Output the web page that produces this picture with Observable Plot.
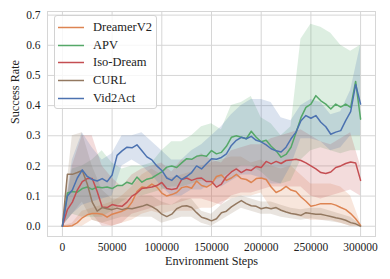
<!DOCTYPE html>
<html><head><meta charset="utf-8">
<script src="https://cdn.jsdelivr.net/npm/d3@7"></script>
<script src="https://cdn.jsdelivr.net/npm/@observablehq/plot@0.6"></script>
<style>
body{margin:0;background:#fff;font-family:'Liberation Serif', serif;}
#wrap{position:relative;width:390px;height:279px;font-family:'Liberation Serif', serif;}
#legend{position:absolute;left:54px;top:15px;width:101px;height:92px;border:1px solid #d2d2d2;border-radius:3px;background:rgba(255,255,255,0.8);}
.item{position:absolute;left:0;height:18px;width:100px;font-size:12.5px;color:#222;font-family:'Liberation Serif', serif;}
.item svg{position:absolute;left:3px;top:8px;}
.item span{position:absolute;left:38px;top:0;line-height:18px;white-space:nowrap;}
</style></head>
<body><div id="wrap"><div id="legend"></div></div>
<script>
const names = ["DreamerV2","APV","Iso-Dream","CURL","Vid2Act"];
const colors = ["#dd8452","#55a868","#c44e52","#937860","#4c72b0"];
const steps = d3.range(0, 300001, 5000);
const bandSteps = d3.range(0, 300001, 10000);
const xTicks = [0,50000,100000,150000,200000,250000,300000];
const yTicks = [0,0.1,0.2,0.3,0.4,0.5,0.6,0.7];

const dreamerV2 = [0,0,0.002,0.012,0.028,0.038,0.042,0.042,0.04,0.03,
  0.04,0.045,0.05,0.058,0.08,0.115,0.13,0.128,0.14,0.13,
  0.11,0.1,0.105,0.112,0.128,0.132,0.126,0.15,0.135,0.13,
  0.14,0.165,0.17,0.152,0.16,0.172,0.158,0.155,0.145,0.158,
  0.16,0.155,0.13,0.112,0.12,0.132,0.12,0.115,0.097,0.083,
  0.066,0.07,0.075,0.075,0.075,0.07,0.062,0.055,0.042,0.025,
  0.003];
const apv = [0,0.11,0.115,0.113,0.125,0.13,0.122,0.13,0.128,0.13,
  0.125,0.135,0.135,0.146,0.14,0.163,0.146,0.156,0.16,0.17,
  0.18,0.196,0.2,0.195,0.21,0.224,0.222,0.232,0.235,0.232,
  0.251,0.24,0.245,0.265,0.295,0.3,0.295,0.29,0.315,0.295,
  0.28,0.285,0.265,0.25,0.229,0.238,0.262,0.31,0.36,0.394,
  0.405,0.433,0.416,0.405,0.389,0.405,0.395,0.405,0.394,0.48,
  0.355];
const isoDream = [0,0.055,0.08,0.12,0.148,0.158,0.158,0.115,0.064,0.062,
  0.072,0.068,0.066,0.08,0.1,0.11,0.125,0.128,0.13,0.135,
  0.145,0.125,0.122,0.125,0.155,0.16,0.152,0.158,0.16,0.148,
  0.148,0.13,0.14,0.165,0.18,0.19,0.178,0.188,0.185,0.198,
  0.195,0.215,0.207,0.215,0.208,0.218,0.22,0.222,0.218,0.21,
  0.2,0.19,0.178,0.175,0.18,0.195,0.2,0.208,0.213,0.21,
  0.152];
const curl = [0,0.172,0.172,0.178,0.185,0.14,0.08,0.05,0.062,0.058,
  0.055,0.06,0.055,0.06,0.058,0.062,0.066,0.072,0.065,0.055,
  0.04,0.032,0.04,0.058,0.066,0.068,0.062,0.045,0.03,0.025,
  0.018,0.025,0.045,0.05,0.064,0.075,0.085,0.075,0.068,0.066,
  0.058,0.062,0.058,0.062,0.053,0.047,0.042,0.04,0.036,0.045,
  0.042,0.04,0.04,0.036,0.032,0.028,0.025,0.02,0.012,0.008,
  0];
const vid2Act = [0,0.1,0.12,0.16,0.187,0.165,0.155,0.15,0.158,0.148,
  0.17,0.235,0.25,0.262,0.26,0.27,0.25,0.23,0.22,0.2,
  0.185,0.16,0.152,0.168,0.155,0.165,0.178,0.2,0.19,0.207,
  0.224,0.222,0.228,0.24,0.268,0.285,0.295,0.29,0.298,0.285,
  0.28,0.27,0.257,0.25,0.246,0.262,0.29,0.312,0.35,0.367,
  0.358,0.367,0.345,0.33,0.305,0.312,0.317,0.35,0.38,0.47,
  0.405];

const dreamerLo = [0,0,0,0.02,0.01,0,0.01,0.02,0.04,0.05,0.04,0.05,0.05,0.05,0.06,0.06,0.08,0.09,0.1,0.1,0.11,0.06,0.05,0.04,0.03,0.02,0.02,0.02,0.01,0,0];
const dreamerHi = [0,0.01,0.05,0.06,0.07,0.08,0.1,0.13,0.17,0.19,0.17,0.16,0.17,0.18,0.2,0.21,0.22,0.23,0.23,0.21,0.22,0.2,0.19,0.2,0.17,0.14,0.14,0.14,0.13,0.1,0.01];
const apvLo = [0,0.04,0.03,0.03,0.03,0.05,0.08,0.1,0.1,0.11,0.12,0.13,0.13,0.14,0.15,0.15,0.16,0.18,0.2,0.2,0.18,0.15,0.14,0.15,0.22,0.25,0.26,0.25,0.24,0.25,0.25];
const apvHi = [0,0.19,0.2,0.22,0.25,0.21,0.19,0.2,0.2,0.21,0.25,0.28,0.28,0.3,0.33,0.34,0.32,0.4,0.41,0.43,0.36,0.34,0.3,0.33,0.62,0.67,0.66,0.64,0.6,0.58,0.6];
const isoLo = [0,0,0.03,0.04,0,0,0.01,0.04,0.05,0.06,0.07,0.07,0.08,0.09,0.09,0.08,0.07,0.1,0.11,0.11,0.12,0.13,0.13,0.13,0.13,0.1,0.09,0.1,0.11,0.12,0.1];
const isoHi = [0,0.2,0.3,0.3,0.2,0.16,0.13,0.17,0.19,0.2,0.21,0.18,0.22,0.22,0.24,0.22,0.21,0.25,0.26,0.27,0.27,0.29,0.3,0.31,0.32,0.3,0.28,0.27,0.29,0.31,0.2];
const curlLo = [0,0.04,0.08,0.02,0.01,0.02,0.03,0.03,0.03,0.03,0.01,0.02,0.03,0.03,0.01,0,0.02,0.04,0.06,0.05,0.04,0.04,0.03,0.025,0.02,0.025,0.02,0.015,0.01,0,0];
const curlHi = [0,0.3,0.31,0.2,0.12,0.09,0.09,0.09,0.1,0.1,0.08,0.07,0.09,0.09,0.05,0.04,0.07,0.09,0.1,0.09,0.08,0.08,0.07,0.06,0.055,0.06,0.06,0.05,0.04,0.03,0.005];
const vidLo = [0,0.04,0.07,0.08,0.09,0.1,0.2,0.22,0.2,0.17,0.13,0.1,0.1,0.12,0.12,0.14,0.13,0.15,0.17,0.17,0.16,0.14,0.14,0.2,0.29,0.29,0.28,0.25,0.26,0.3,0.3];
const vidHi = [0,0.22,0.31,0.26,0.22,0.24,0.3,0.3,0.31,0.28,0.25,0.22,0.22,0.25,0.27,0.3,0.33,0.37,0.4,0.42,0.42,0.41,0.36,0.35,0.4,0.42,0.41,0.37,0.38,0.45,0.6];

const means = [dreamerV2, apv, isoDream, curl, vid2Act];
const los = [dreamerLo, apvLo, isoLo, curlLo, vidLo];
const his = [dreamerHi, apvHi, isoHi, curlHi, vidHi];

const bandMarks = names.map((n, i) => Plot.areaY(
  bandSteps.map((s, j) => ({step: s, lo: los[i][j], hi: his[i][j]})),
  {x: "step", y1: "lo", y2: "hi", fill: colors[i], fillOpacity: 0.2}));
const lineMarks = names.map((n, i) => Plot.line(
  steps.map((s, j) => ({step: s, v: means[i][j]})),
  {x: "step", y: "v", stroke: colors[i], strokeWidth: 1.5}));

const grid = "#d6d6d6";
const chart = Plot.plot({
  width: 390, height: 279,
  marginLeft: 47, marginRight: 15, marginTop: 11, marginBottom: 43,
  style: {fontFamily: "'Liberation Serif', serif", fontSize: "11.5px", color: "#222", background: "#fff"},
  x: {domain: [-15000, 315000]},
  y: {domain: [-0.034, 0.712]},
  marks: [
    Plot.gridX(xTicks, {stroke: grid, strokeOpacity: 1, strokeWidth: 1}),
    Plot.gridY(yTicks, {stroke: grid, strokeOpacity: 1, strokeWidth: 1}),
    Plot.frame({stroke: grid, strokeWidth: 1}),
    ...bandMarks,
    ...lineMarks,
    Plot.axisX(xTicks, {tickSize: 0, tickPadding: 6, tickFormat: d => String(d), label: null}),
    Plot.axisY(yTicks, {tickSize: 0, tickPadding: 7, tickFormat: d3.format(".1f"), label: null}),
    Plot.text(["Environment Steps"], {frameAnchor: "bottom", dy: 28, fontSize: 12.2}),
    Plot.text(["Success Rate"], {frameAnchor: "left", rotate: -90, dx: -32, fontSize: 12.2})
  ]
});
const wrap = document.getElementById("wrap");
wrap.insertBefore(chart, wrap.firstChild);

const legend = document.getElementById("legend");
const centers = [11, 28.5, 46, 64, 82];
names.forEach((n, i) => {
  const it = document.createElement("div");
  it.className = "item";
  it.style.top = (centers[i] - 9) + "px";
  it.innerHTML = `<svg width="26" height="3"><line x1="0" y1="1.5" x2="26" y2="1.5" stroke="${colors[i]}" stroke-width="1.5"/></svg><span>${n}</span>`;
  legend.appendChild(it);
});
</script></body></html>
